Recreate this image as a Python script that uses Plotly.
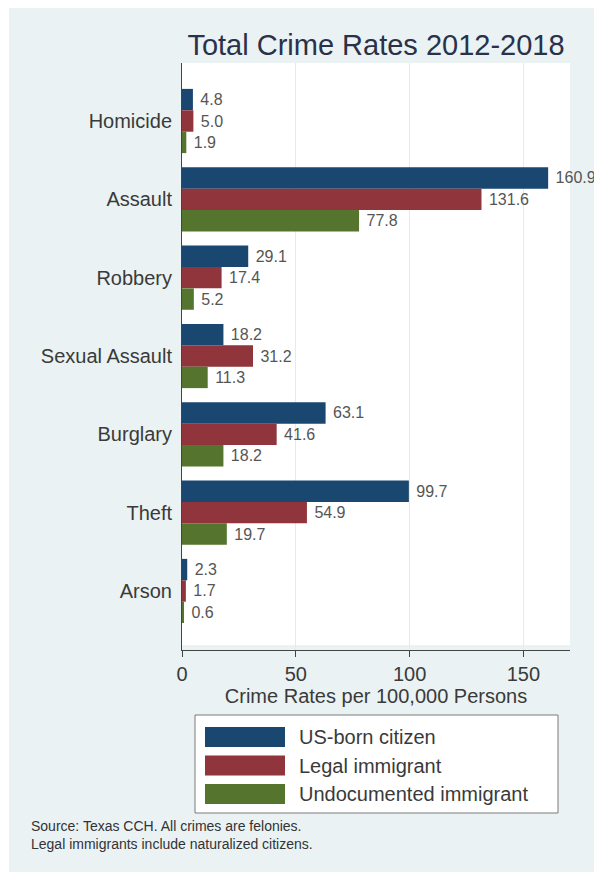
import plotly.graph_objects as go

# ---- data ----
categories = ["Homicide", "Assault", "Robbery", "Sexual Assault", "Burglary", "Theft", "Arson"]
series_names = ["US-born citizen", "Legal immigrant", "Undocumented immigrant"]
us_born = [4.8, 160.9, 29.1, 18.2, 63.1, 99.7, 2.3]
legal = [5.0, 131.6, 17.4, 31.2, 41.6, 54.9, 1.7]
undocumented = [1.9, 77.8, 5.2, 11.3, 18.2, 19.7, 0.6]
x_ticks = [0, 50, 100, 150]
colors = ["#1a476f", "#90353b", "#55752f"]

title_text = "Total Crime Rates 2012-2018"
x_title = "Crime Rates per 100,000 Persons"
notes = ["Source: Texas CCH. All crimes are felonies.",
         "Legal immigrants include naturalized citizens."]

FONT = "Liberation Sans, Arial, Helvetica, sans-serif"
OFF = 8                      # page body margin
W, H = 602 - OFF, 877 - OFF
# plot area in screenshot pixels
SL, SR, ST, SB = 182, 570, 63, 650
L, R, T, B = SL - OFF, SR - OFF, ST - OFF, SB - OFF


def px(x):  # screenshot x -> paper
    return (x - OFF - L) / (R - L)


def py(y):  # screenshot y -> paper
    return (B - (y - OFF)) / (B - T)


fig = go.Figure()
for name, vals, col in zip(series_names, [us_born, legal, undocumented], colors):
    fig.add_trace(go.Bar(
        y=categories, x=vals, name=name, orientation="h",
        marker=dict(color=col, line=dict(width=0)),
        texttemplate="\u00a0%{x:.1f}", textposition="outside",
        textfont=dict(size=16, color="#555555", family=FONT),
        cliponaxis=False, constraintext="none", showlegend=False,
    ))

shapes = []
# light background panel with thin white outer border
shapes.append(dict(type="rect", xref="paper", yref="paper", layer="below",
                   x0=px(9), x1=px(610), y0=py(872), y1=py(0),
                   fillcolor="#eaf2f3", line=dict(width=0)))
# white plot region
shapes.append(dict(type="rect", xref="paper", yref="paper", layer="below",
                   x0=0, x1=1, y0=py(645), y1=1,
                   fillcolor="white", line=dict(width=0)))
# legend box
shapes.append(dict(type="rect", xref="paper", yref="paper",
                   x0=px(195), x1=px(558), y0=py(813), y1=py(715),
                   fillcolor="white", line=dict(color="#7a7a7a", width=1)))
annotations = []
row_y = [737, 765.5, 794]
for name, col, yc in zip(series_names, colors, row_y):
    shapes.append(dict(type="rect", xref="paper", yref="paper",
                       x0=px(205), x1=px(285), y0=py(yc + 10), y1=py(yc - 10),
                       fillcolor=col, line=dict(width=0)))
    annotations.append(dict(xref="paper", yref="paper", x=px(297), y=py(yc),
                            xanchor="left", yanchor="middle", showarrow=False,
                            text=name, font=dict(size=20, color="#3a3a3a", family=FONT)))
annotations.append(dict(xref="paper", yref="paper", x=px(29), y=py(835),
                        xanchor="left", yanchor="middle", align="left", showarrow=False,
                        text="<br>".join(notes),
                        font=dict(size=14, color="#333333", family=FONT)))

fig.update_layout(
    width=W, height=H,
    margin=dict(l=L, r=W - R, t=T, b=H - B, pad=0),
    paper_bgcolor="white", plot_bgcolor="rgba(0,0,0,0)",
    font=dict(family=FONT, color="#3a3a3a"),
    barmode="group", bargap=0.18, bargroupgap=0,
    title=dict(text=title_text, x=px(376), xref="paper", xanchor="center",
               y=1 - (45 - OFF) / H, yanchor="middle",
               font=dict(size=29, color="#2a3148", family=FONT)),
    shapes=shapes, annotations=annotations,
    showlegend=False,
)
fig.update_xaxes(
    range=[0, 170.5], tickvals=x_ticks, ticktext=[str(v) for v in x_ticks],
    showgrid=True, gridcolor="#e3ebee", gridwidth=1, zeroline=False,
    showline=True, linecolor="#444444", linewidth=1,
    ticks="outside", ticklen=6, tickcolor="#444444",
    tickfont=dict(size=20, color="#3a3a3a"),
    title=dict(text=x_title, font=dict(size=20, color="#3a3a3a"), standoff=0),
)
fig.update_yaxes(
    categoryorder="array", categoryarray=categories,
    range=[6 + 59 / 78.33, -58 / 78.33],
    showgrid=False, zeroline=False,
    showline=True, linecolor="#444444", linewidth=1,
    ticks="", ticklabelstandoff=5,
    tickfont=dict(size=20, color="#3a3a3a"),
)

fig.write_html("out.html")
